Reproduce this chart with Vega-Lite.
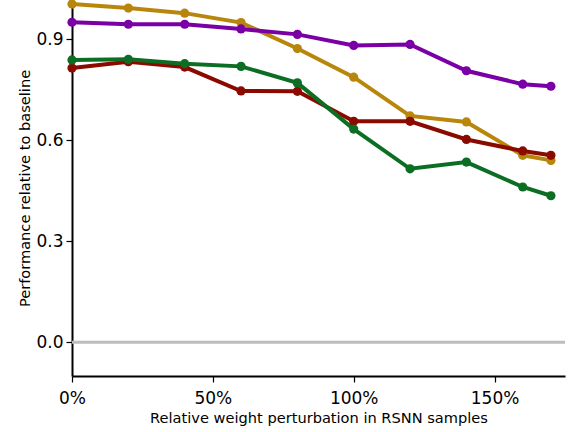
{
  "$schema": "https://vega.github.io/schema/vega-lite/v6.json",
  "width": 493,
  "height": 376,
  "autosize": {"type": "none"},
  "padding": {"left": 72, "top": 0, "right": 11, "bottom": 56},
  "config": {
    "view": {"stroke": null},
    "font": "DejaVu Sans",
    "axis": {
      "grid": false,
      "domainColor": "black",
      "domainWidth": 2,
      "tickColor": "black",
      "tickWidth": 1.2,
      "tickSize": 6,
      "labelFont": "DejaVu Sans",
      "labelFontSize": 17,
      "labelColor": "black",
      "labelFlush": false,
      "labelOverlap": false,
      "titleFont": "DejaVu Sans",
      "titleFontSize": 14.6,
      "titleFontWeight": "normal",
      "titleColor": "black"
    }
  },
  "datasets": {
    "series": [
      {"s": "gold", "x": 0.0, "y": 1.004},
      {"s": "gold", "x": 0.2, "y": 0.992},
      {"s": "gold", "x": 0.4, "y": 0.977},
      {"s": "gold", "x": 0.6, "y": 0.949},
      {"s": "gold", "x": 0.8, "y": 0.872},
      {"s": "gold", "x": 1.0, "y": 0.787},
      {"s": "gold", "x": 1.2, "y": 0.672},
      {"s": "gold", "x": 1.4, "y": 0.654},
      {"s": "gold", "x": 1.6, "y": 0.555},
      {"s": "gold", "x": 1.7, "y": 0.540},
      {"s": "purple", "x": 0.0, "y": 0.950},
      {"s": "purple", "x": 0.2, "y": 0.944},
      {"s": "purple", "x": 0.4, "y": 0.944},
      {"s": "purple", "x": 0.6, "y": 0.930},
      {"s": "purple", "x": 0.8, "y": 0.914},
      {"s": "purple", "x": 1.0, "y": 0.881},
      {"s": "purple", "x": 1.2, "y": 0.884},
      {"s": "purple", "x": 1.4, "y": 0.806},
      {"s": "purple", "x": 1.6, "y": 0.766},
      {"s": "purple", "x": 1.7, "y": 0.760},
      {"s": "red", "x": 0.0, "y": 0.814},
      {"s": "red", "x": 0.2, "y": 0.833},
      {"s": "red", "x": 0.4, "y": 0.817},
      {"s": "red", "x": 0.6, "y": 0.746},
      {"s": "red", "x": 0.8, "y": 0.745},
      {"s": "red", "x": 1.0, "y": 0.656},
      {"s": "red", "x": 1.2, "y": 0.656},
      {"s": "red", "x": 1.4, "y": 0.602},
      {"s": "red", "x": 1.6, "y": 0.568},
      {"s": "red", "x": 1.7, "y": 0.555},
      {"s": "green", "x": 0.0, "y": 0.838},
      {"s": "green", "x": 0.2, "y": 0.840},
      {"s": "green", "x": 0.4, "y": 0.827},
      {"s": "green", "x": 0.6, "y": 0.819},
      {"s": "green", "x": 0.8, "y": 0.770},
      {"s": "green", "x": 1.0, "y": 0.633},
      {"s": "green", "x": 1.2, "y": 0.515},
      {"s": "green", "x": 1.4, "y": 0.535},
      {"s": "green", "x": 1.6, "y": 0.461},
      {"s": "green", "x": 1.7, "y": 0.435}
    ],
    "zero": [{"y": 0}]
  },
  "layer": [
    {
      "data": {"name": "zero"},
      "mark": {"type": "rule", "color": "#bdbdbd", "strokeWidth": 3},
      "encoding": {
        "y": {"field": "y", "type": "quantitative", "scale": {"domain": [-0.1, 1.016], "nice": false, "zero": false}}
      }
    },
    {
      "data": {"name": "series"},
      "mark": {"type": "line", "strokeWidth": 4, "point": {"filled": true, "size": 85, "opacity": 1}},
      "encoding": {
        "x": {
          "field": "x", "type": "quantitative",
          "scale": {"domain": [0, 1.75], "nice": false, "zero": false},
          "axis": {"values": [0, 0.5, 1.0, 1.5], "format": ".0%", "title": "Relative weight perturbation in RSNN samples", "titlePadding": 4, "labelPadding": 8}
        },
        "y": {
          "field": "y", "type": "quantitative",
          "scale": {"domain": [-0.1, 1.016], "nice": false, "zero": false},
          "axis": {"values": [0, 0.3, 0.6, 0.9], "format": ".1f", "title": "Performance relative to baseline", "titlePadding": 3, "labelPadding": 3}
        },
        "color": {
          "field": "s", "type": "nominal",
          "scale": {"domain": ["gold", "purple", "red", "green"], "range": ["#b8860b", "#7a00a5", "#8b0a00", "#0b6e23"]},
          "legend": null
        },
        "order": {"field": "x", "type": "quantitative"}
      }
    }
  ]
}
